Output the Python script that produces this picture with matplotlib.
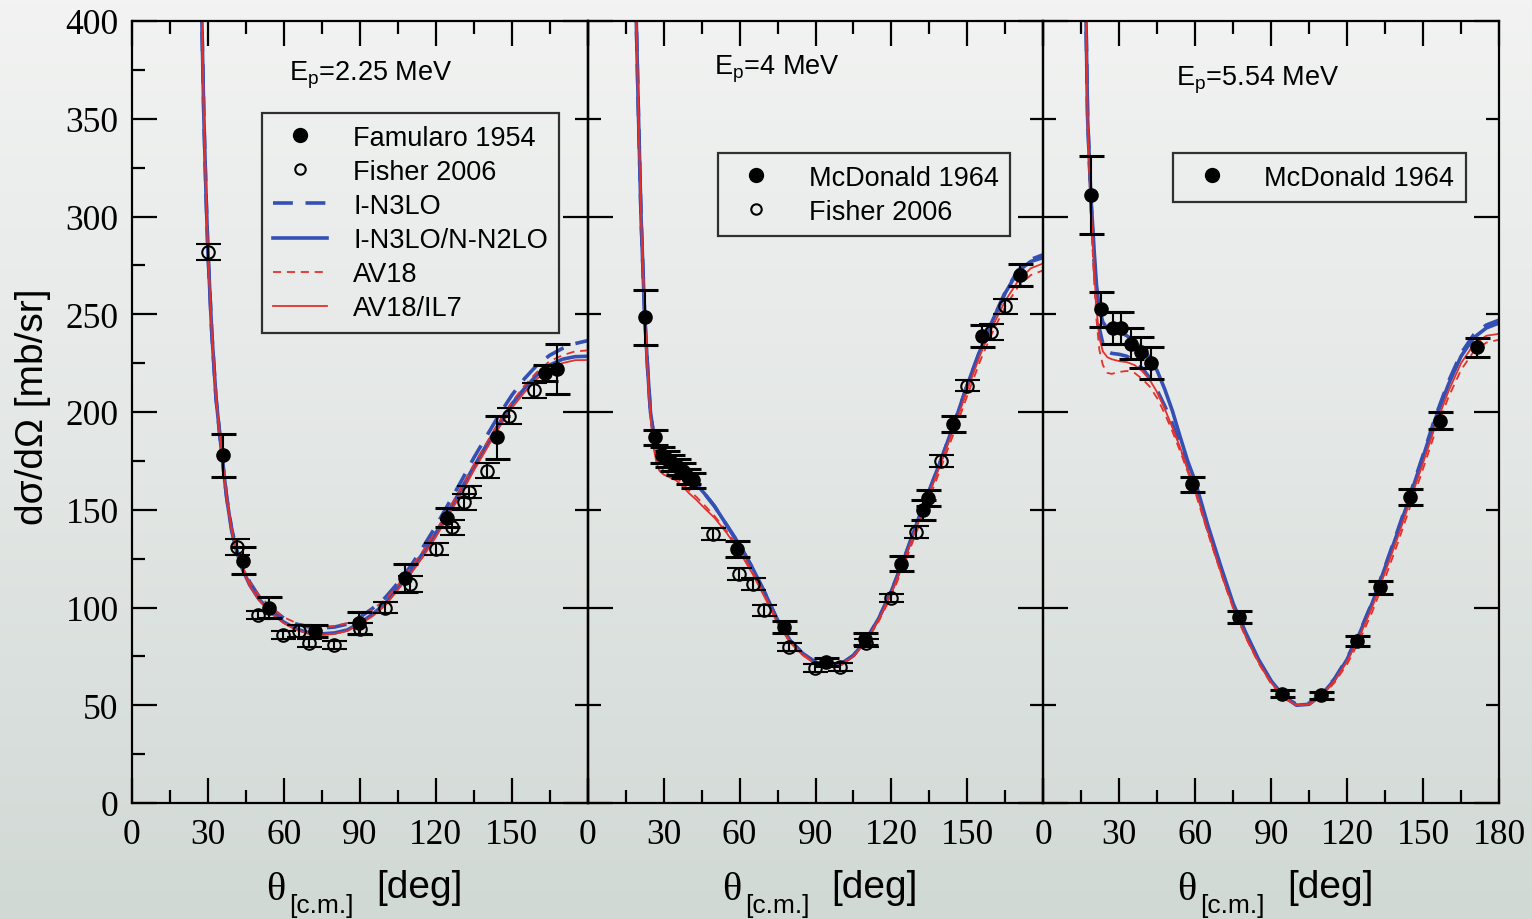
import numpy as np
import matplotlib
matplotlib.use('Agg')
import matplotlib.pyplot as plt
from matplotlib.ticker import MultipleLocator
from matplotlib.lines import Line2D
from matplotlib.colors import LinearSegmentedColormap

# ---------------- data ----------------
# Panel 1: Ep = 2.25 MeV
famularo_x = [35.9, 44.0, 54.3, 72.4, 89.5, 108.0, 124.5, 144.3, 163.0, 168.0]
famularo_y = [178, 124, 100, 88, 92, 115, 146, 187, 220, 222]
famularo_e = [11, 7, 5.5, 3, 5.5, 7, 5, 11, 4, 13]

fisher1_x = [30.2, 41.4, 49.7, 59.6, 66.0, 69.8, 79.6, 90.0, 100.0, 110.0, 119.9, 126.4, 131.0, 133.0, 140.3, 148.9, 158.8]
fisher1_y = [282, 131, 96, 86, 88, 82, 81, 89, 100, 112, 130, 141, 154, 159, 170, 198, 211]
fisher1_e = [4, 4, 2, 2, 3, 2, 2, 3, 3, 4, 3, 4, 4, 3, 4, 4, 4]

theta1 = [27.0, 27.6, 28.4, 29.3, 30, 31.5, 33.2, 35.5, 37.4, 39.4, 41.5, 43.5, 46.5, 50, 55, 60, 65, 70, 75, 80,
          85, 90, 95, 100, 105, 110, 115, 120, 125, 130, 135, 140, 145, 150, 155, 160, 165, 170, 175, 180]
in3lo_1 = [430, 400, 350, 309, 282, 241, 207, 178, 156.5, 140, 129, 121.5, 113, 106, 99.5, 94.5, 91.5, 90, 89.5, 90,
           91.5, 95, 99.5, 105, 112.5, 121, 131, 141.5, 153, 164.5, 176.5, 187.5, 198.5, 208.5, 217, 224, 229, 232.5, 235, 236.5]
in3lo_nn2lo_1 = [430, 400, 350, 309, 282, 241, 207, 178, 156, 139, 128, 120, 111.5, 104.5, 97.5, 92.5, 89, 87, 86.5, 87,
                 88.5, 92, 96.5, 102, 110, 118.5, 128, 138, 149, 160.5, 172, 183, 194, 204, 212, 219, 224, 227, 228.3, 228.5]
av18_1 = [430, 400, 350, 309, 282, 241, 207, 178, 156.5, 140, 129, 121.5, 113, 106.5, 100, 95, 92, 90.5, 90, 90.5,
          92, 95, 99, 104, 111.5, 120, 129, 139, 150, 161, 173, 184, 195, 205, 213.5, 220.5, 226, 229, 231, 231.5]
av18_il7_1 = [430, 400, 350, 309, 282, 241, 207, 178, 156, 139, 128, 120, 111, 104, 97, 92, 88.5, 86.5, 86, 86.5,
              88, 91.5, 95.5, 101, 109, 117, 126, 136, 147, 158, 170, 181, 192, 202, 210, 217, 222, 225, 226.5, 226.6]

# Panel 2: Ep = 4 MeV
mcd2_x = [22.8, 26.7, 29.5, 31.5, 33.5, 35.5, 37.5, 39.5, 41.5, 59.0, 77.4, 94.1, 109.6, 123.8, 132.5, 134.5, 144.5, 155.8, 170.9]
mcd2_y = [248.5, 187, 178, 176, 174, 172, 170, 167, 165, 130, 90, 72, 84, 122.5, 150, 156, 194, 239, 270]
mcd2_e = [14, 4, 4, 4, 4, 4, 4, 4, 4, 4, 3, 2, 3, 4, 5, 4, 4, 5.5, 5.5]

fisher2_x = [49.7, 59.6, 65.5, 69.5, 79.4, 89.9, 99.8, 110.0, 119.8, 129.8, 139.6, 150.0, 159.3, 165.0]
fisher2_y = [137.6, 117, 112, 98.5, 79.6, 69, 69.4, 82, 105, 138.5, 175, 213.5, 241, 254]
fisher2_e = [3, 3, 3, 3, 2, 2, 2, 2, 2, 3, 3, 3, 4, 4]

theta2 = [18.8, 19.2, 20.1, 21.1, 22.5, 23.7, 24.8, 26, 27.2, 28.3, 30, 32.5, 35, 37.5, 40, 43, 46, 50, 55, 60,
          65, 70, 75, 80, 85, 90, 95, 100, 105, 110, 115, 120, 125, 130, 135, 140, 145, 150, 155, 160,
          165, 170, 175, 180]
in3lo_2 = [430, 400, 350, 299, 250, 222, 200, 189, 183, 179, 174, 171, 169, 167.5, 165.5, 162.5, 158.5, 152, 142, 132,
           120.5, 107.5, 93.5, 83, 76.5, 72, 70.2, 71, 75.5, 83.5, 94.5, 108.5, 125, 143, 160, 177, 195, 214, 231.5, 247,
           261.5, 272.5, 278, 280.5]
in3lo_nn2lo_2 = [430, 400, 350, 299, 250, 222, 200, 189, 183, 179.5, 175, 172, 170, 168, 166, 163, 158.5, 152, 142, 132,
                 120.5, 107.5, 93.5, 83, 76.5, 72, 70.2, 71, 75.5, 83.5, 94.5, 108.5, 125, 143, 160, 177, 195, 214, 231.5, 247,
                 261, 272, 277, 279]
av18_2 = [430, 400, 350, 299, 250, 221, 199, 184, 176, 172, 170, 168, 166.5, 163.5, 160, 156.5, 152.5, 147, 139, 129.5,
          118.5, 106, 93, 82.5, 76, 71.5, 70, 71, 75, 82.5, 93, 106, 122, 139, 156, 173, 190.5, 208.5, 226, 241,
          254, 264, 270, 272.5]
av18_il7_2 = [430, 400, 350, 299, 250, 220, 198, 182, 174, 170, 168, 166.5, 165, 162, 158.5, 155, 151, 146, 138, 128.5,
              117.5, 105, 92, 82, 75.5, 71, 69.5, 70.5, 75, 83, 94, 107.5, 124, 141.5, 158.5, 175.5, 193, 211.5, 229, 244,
              257, 267, 273.5, 276]

# Panel 3: Ep = 5.54 MeV
mcd3_x = [18.8, 22.8, 27.4, 30.7, 34.6, 38.6, 42.5, 58.9, 77.4, 94.1, 109.6, 123.8, 132.8, 144.9, 156.5, 171.2]
mcd3_y = [311, 252.5, 243, 243, 235, 230.5, 225, 163, 95.2, 56, 55, 83, 110.3, 156.4, 195.6, 233]
mcd3_e = [20, 9, 8, 8, 8, 8, 8, 4, 3, 2, 2, 2.5, 3.5, 4, 4.5, 5]

theta3 = [16.4, 16.86, 17.5, 18.8, 20.1, 21, 22.1, 23.5, 25.3, 27, 30, 33, 36, 39, 42, 45, 48, 51, 54, 57,
          60, 65, 70, 75, 80, 85, 90, 95, 100, 105, 110, 115, 120, 125, 130, 135, 140, 145, 150, 155,
          160, 165, 170, 175, 180]
in3lo_3 = [430, 400, 350, 308, 276, 258, 243, 235, 231, 230, 229.5, 228.5, 226, 222.5, 217.5, 211, 203, 194, 183, 172,
           161.5, 140, 120, 101, 86, 73, 62, 54.5, 50.5, 51, 56, 63.5, 74, 87.5, 103, 121, 139.5, 158.5, 178, 198,
           215.5, 230, 239.5, 244.5, 247]
in3lo_nn2lo_3 = [430, 400, 350, 310, 282, 265, 253, 246, 242.5, 241.5, 241, 239, 236, 232.5, 228, 221, 211.5, 200.5, 187.5, 175,
                 164.5, 142, 121.5, 102, 87, 73.5, 62.5, 54.5, 50, 50.5, 55.5, 63, 73.5, 87, 102.5, 120.5, 138.5, 157.5, 177, 197,
                 214, 228.5, 238, 243, 245.5]
av18_3 = [430, 400, 345, 300, 266, 247, 232, 224, 220, 219.5, 220.5, 221, 220, 217, 213, 207, 199, 190, 180, 169.5,
          159, 138, 118, 99.5, 84.5, 71.5, 61, 53.5, 50, 50.5, 54.5, 61.5, 71, 83.5, 98, 115, 133, 152, 171, 190.5,
          207.5, 221.5, 231, 235.5, 237]
av18_il7_3 = [430, 400, 348, 305, 272, 253, 238, 231, 228, 227, 226, 225.5, 224, 221, 216.5, 210, 201.5, 192, 182, 171,
              160.5, 139, 118.5, 100, 85, 72, 61.5, 54, 50, 50.5, 55, 62.5, 72.5, 85.5, 100.5, 118, 136, 155, 174, 193.5,
              210.5, 225, 234.5, 239, 240]

energy_labels = ['2.25', '4', '5.54']
x_ticks = [0, 30, 60, 90, 120, 150, 180]
y_ticks = [0, 50, 100, 150, 200, 250, 300, 350, 400]

# ---------------- style ----------------
plt.rcParams['font.family'] = ['Liberation Serif', 'DejaVu Serif']
plt.rcParams['mathtext.fontset'] = 'custom'
plt.rcParams['mathtext.rm'] = 'Liberation Sans'

BLUE = '#3550b4'
RED = '#e5302b'
SANS = ['Liberation Sans', 'DejaVu Sans']

W_PX, H_PX = 1532, 920
fig = plt.figure(figsize=(W_PX / 100, H_PX / 100), dpi=100)

# background gradient
bg = fig.add_axes([0, 0, 1, 1], zorder=-10)
cmap = LinearSegmentedColormap.from_list('bg', ['#d1d9d5', '#e3e7e5', '#f2f3f2'])
grad = np.linspace(0, 1, 256).reshape(-1, 1)
bg.imshow(grad, aspect='auto', cmap=cmap, origin='lower', extent=[0, 1, 0, 1])
bg.axis('off')

left0 = 132.0
pw = 455.67
bottom = 1 - 804 / H_PX
height = 782 / H_PX

curve_styles = {
    'I-N3LO': dict(color=BLUE, lw=2.6, dashes=(5.5, 3.5)),
    'I-N3LO/N-N2LO': dict(color=BLUE, lw=2.6),
    'AV18': dict(color=RED, lw=1.3, dashes=(4.5, 3.2)),
    'AV18/IL7': dict(color=RED, lw=1.3),
}

panels = [
    dict(theta=theta1, curves=[in3lo_1, in3lo_nn2lo_1, av18_1, av18_il7_1],
         filled=(famularo_x, famularo_y, famularo_e), open_=(fisher1_x, fisher1_y, fisher1_e)),
    dict(theta=theta2, curves=[in3lo_2, in3lo_nn2lo_2, av18_2, av18_il7_2],
         filled=(mcd2_x, mcd2_y, mcd2_e), open_=(fisher2_x, fisher2_y, fisher2_e)),
    dict(theta=theta3, curves=[in3lo_3, in3lo_nn2lo_3, av18_3, av18_il7_3],
         filled=(mcd3_x, mcd3_y, mcd3_e), open_=None),
]
curve_names = ['I-N3LO', 'I-N3LO/N-N2LO', 'AV18', 'AV18/IL7']
title_pos = [(0.345, 0.932), (0.2765, 0.939), (0.292, 0.926)]

axes = []
for i, p in enumerate(panels):
    ax = fig.add_axes([(left0 + i * pw) / W_PX, bottom, pw / W_PX, height])
    ax.set_facecolor('none')
    axes.append(ax)
    for name, yv in zip(curve_names, p['curves']):
        ax.plot(p['theta'], yv, zorder=2, solid_capstyle='butt', dash_capstyle='butt', **curve_styles[name])
    fx, fy, fe = p['filled']
    ax.errorbar(fx, fy, yerr=fe, fmt='o', ms=9.5, mfc='black', mec='black', ecolor='black',
                elinewidth=1.5, capsize=9, capthick=2.2, zorder=4)
    if p['open_'] is not None:
        ox, oy, oe = p['open_']
        ax.errorbar(ox, oy, yerr=oe, fmt='o', ms=9, mfc='none', mec='black', mew=1.5, ecolor='black',
                    elinewidth=1.5, capsize=9, capthick=2.2, zorder=4)
    ax.set_xlim(0, 180)
    ax.set_ylim(0, 400)
    for s in ax.spines.values():
        s.set_linewidth(1.6)
    ax.set_xticks(x_ticks)
    if i < 2:
        ax.set_xticklabels([str(t) for t in x_ticks[:-1]] + [''])
    else:
        ax.set_xticklabels([str(t) for t in x_ticks])
    ax.xaxis.set_minor_locator(MultipleLocator(15))
    if i == 0:
        ax.set_yticks(y_ticks)
        ax.set_yticklabels([str(t) for t in y_ticks])
        ax.yaxis.set_minor_locator(MultipleLocator(25))
        ax.tick_params(axis='y', which='both', right=False)
        sec = ax.secondary_yaxis('right')
        sec.yaxis.set_major_locator(MultipleLocator(100))
        sec.yaxis.set_minor_locator(MultipleLocator(50))
        sec.tick_params(which='major', direction='in', length=18, width=1.6, labelright=False)
        sec.tick_params(which='minor', direction='in', length=9.5, width=1.6)
        sec.spines['right'].set_linewidth(1.6)
    else:
        ax.yaxis.set_major_locator(MultipleLocator(100))
        ax.yaxis.set_minor_locator(MultipleLocator(50))
        ax.tick_params(axis='y', which='both', right=True, labelleft=False)
    ax.tick_params(which='major', direction='in', length=18, width=1.6, top=True, labelsize=25.5)
    ax.tick_params(which='minor', direction='in', length=9.5, width=1.6, top=True)
    ax.tick_params(axis='x', which='major', pad=11)
    ax.tick_params(axis='y', which='major', pad=9.5)

    tx, ty = title_pos[i]
    ax.text(tx, ty, r'E$_{\mathregular{p}}$=' + energy_labels[i] + ' MeV', transform=ax.transAxes,
            family=SANS, fontsize=19.5, va='center', ha='left')

    # x label
    p0 = left0 + i * pw
    fig.text((p0 + 134.0) / W_PX, 1 - 900 / H_PX, '\u03b8', family=['Liberation Serif'], fontsize=29,
             va='baseline', ha='left')
    fig.text((p0 + 157.0) / W_PX, 1 - 913 / H_PX, '[c.m.]', family=SANS, fontsize=19,
             va='baseline', ha='left')
    fig.text((p0 + 244.0) / W_PX, 1 - 898 / H_PX, '[deg]', family=SANS, fontsize=28,
             va='baseline', ha='left')

# y label
fig.text(33 / W_PX, 1 - 407 / H_PX, 'd\u03c3/d\u03a9 [mb/sr]', family=SANS, fontsize=28,
         rotation=90, va='center', ha='center')

# legends
def curve_handle(name):
    return Line2D([], [], **curve_styles[name])

filled_h = Line2D([], [], ls='none', marker='o', ms=10, mfc='black', mec='black')
open_h = Line2D([], [], ls='none', marker='o', ms=7.5, mfc='none', mec='black', mew=1.5)
leg_kw = dict(loc='upper left', borderaxespad=0, frameon=True, fancybox=False, edgecolor='black',
              facecolor='none', framealpha=None, prop={'family': SANS, 'size': 19.5},
              handlelength=2.0, handletextpad=0.95, labelspacing=0.3, borderpad=0.42)

leg1 = axes[0].legend([filled_h, open_h] + [curve_handle(n) for n in curve_names],
                      ['Famularo 1954', 'Fisher 2006'] + curve_names,
                      bbox_to_anchor=(0.285, 0.882), **leg_kw)
leg2 = axes[1].legend([filled_h, open_h], ['McDonald 1964', 'Fisher 2006'],
                      bbox_to_anchor=(0.285, 0.831), **leg_kw)
leg3 = axes[2].legend([filled_h], ['McDonald 1964'],
                      bbox_to_anchor=(0.285, 0.831), **leg_kw)
for lg in (leg1, leg2, leg3):
    lg.get_frame().set_linewidth(1.6)
    lg.set_zorder(5)

fig.savefig('out.png', dpi=100)
